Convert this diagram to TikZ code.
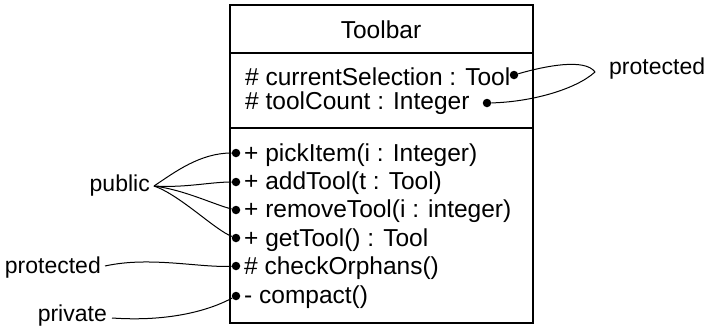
\documentclass[tikz,border=0pt]{standalone}
\usepackage{fontspec}
\setmainfont{Liberation Sans}
\begin{document}
\begin{tikzpicture}[x=1pt,y=-1pt,
  txt/.style={font=\fontsize{24.5}{28}\selectfont, inner sep=0pt, anchor=west},
  lbl/.style={font=\fontsize{23}{26}\selectfont, inner sep=0pt},
  dotb/.style={circle, fill=black, inner sep=0pt, minimum size=8.5pt},
  wire/.style={line width=1pt},
  boxline/.style={line width=1.5pt}]
\useasboundingbox (0,0) rectangle (712,327);
% box
\draw[boxline] (230,5) rectangle (533,323);
\draw[boxline] (230,53) -- (533,53);
\draw[boxline] (230,128) -- (533,128);
\node[lbl, font=\fontsize{24.5}{28}\selectfont] (title) at (381,30) {Toolbar};
% attributes
\node[txt] (a1) at (245,77) {\# currentSelection : Tool};
\node[txt] (a2) at (245,103) {\# toolCount : Integer};
\node[dotb] (da1) at (514,75) {};
\node[dotb] (da2) at (487,103) {};
% operations
\node[txt] (o1) at (244,155) {+ pickItem(i : Integer)};
\node[txt] (o2) at (244,183) {+ addTool(t : Tool)};
\node[txt] (o3) at (244,211) {+ removeTool(i : integer)};
\node[txt] (o4) at (244,240) {+ getTool() : Tool};
\node[txt] (o5) at (244,268) {\# checkOrphans()};
\node[txt] (o6) at (244,297) {- compact()};
\node[dotb] (d1) at (236,153) {};
\node[dotb] (d2) at (236,182) {};
\node[dotb] (d3) at (236,210) {};
\node[dotb] (d4) at (236,238) {};
\node[dotb] (d5) at (236,266) {};
\node[dotb] (d6) at (236,296) {};
% labels
\node[lbl, anchor=east] (pub) at (150,186) {public};
\node[lbl, anchor=east] (prot) at (101,268) {protected};
\node[lbl, anchor=east] (priv) at (107,316) {private};
\node[lbl, anchor=west] (prot2) at (609,69) {protected};
\coordinate (pv) at (154,186);
\coordinate (tip) at (595,72);
% connectors
\draw[wire] (pv) .. controls (175,172) and (200,153) .. (d1);
\draw[wire] (pv) .. controls (185,188) and (210,182) .. (d2);
\draw[wire] (pv) .. controls (185,190) and (215,205) .. (d3);
\draw[wire] (pv) .. controls (180,195) and (215,230) .. (d4);
\draw[wire] (105,266) .. controls (150,256) and (200,268) .. (d5);
\draw[wire] (112,318) .. controls (170,322) and (210,310) .. (d6);
\draw[wire] (da1) .. controls (545,66) and (585,58) .. (tip)
  .. controls (575,90) and (530,102) .. (da2);
\end{tikzpicture}
\end{document}
